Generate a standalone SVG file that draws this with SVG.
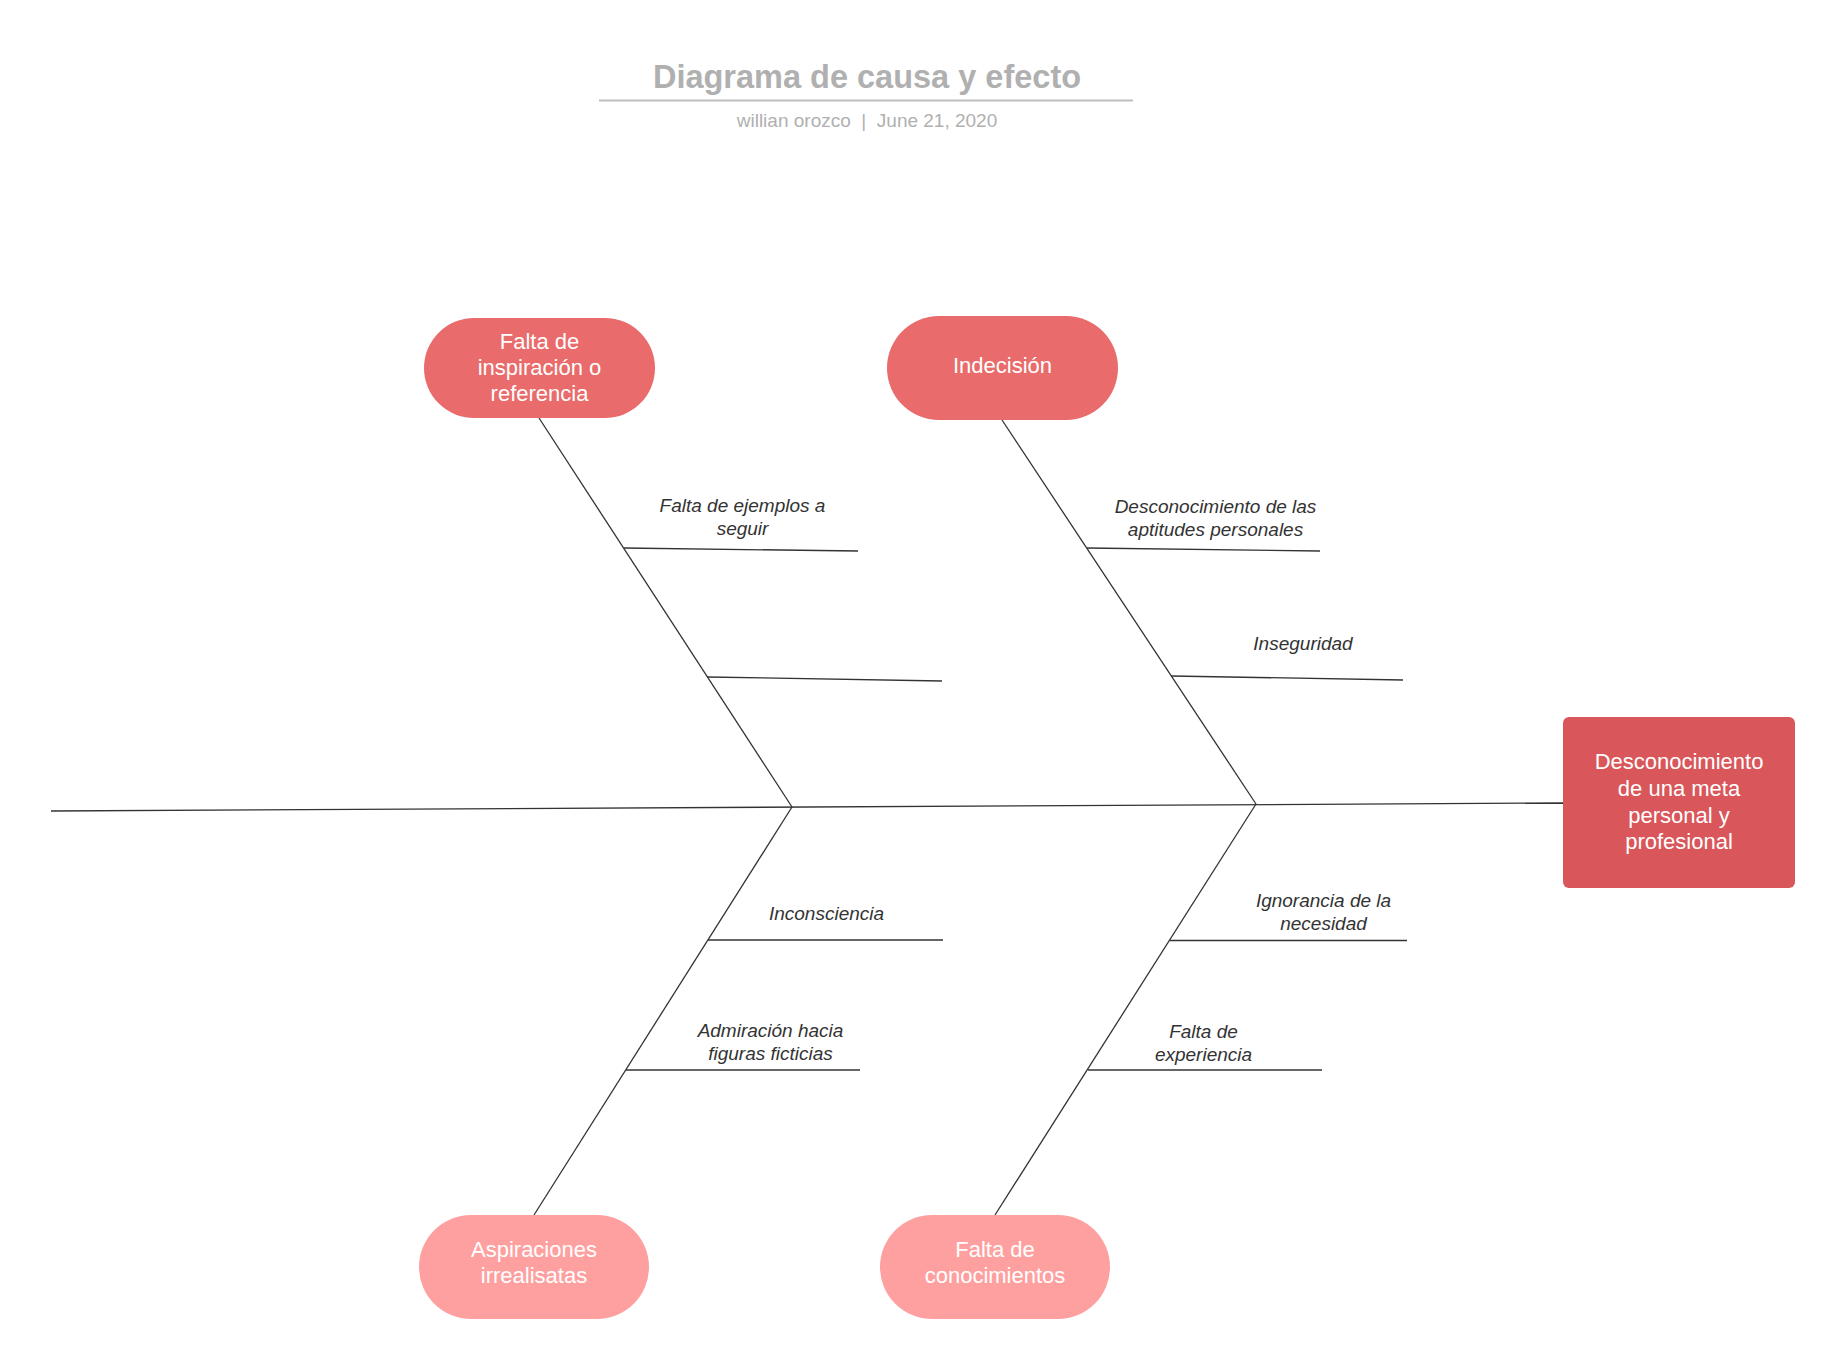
<svg xmlns="http://www.w3.org/2000/svg" width="1845" height="1367" viewBox="0 0 1845 1367">
  <style>
    text { font-family: "Liberation Sans", Arial, sans-serif; }
    .title { font-size: 32.5px; font-weight: bold; fill: #b0b0b0; text-anchor: middle; }
    .sub { font-size: 19px; fill: #b0b0b0; text-anchor: middle; white-space: pre; }
    .node-text { font-size: 22px; fill: #ffffff; text-anchor: middle; }
    .label { font-size: 19px; font-style: italic; fill: #333333; text-anchor: middle; }
    .top { fill: #e96b6b; }
    .bottom { fill: #ffa0a0; }
    .effect { fill: #d9565a; }
    .bone { stroke: #333333; stroke-width: 1.3; fill: none; }
  </style>

  <!-- heading -->
  <g id="heading">
    <text class="title" x="867" y="88">Diagrama de causa y efecto</text>
    <line x1="599" y1="100.5" x2="1133" y2="100.5" stroke="#bdbdbd" stroke-width="2.2"/>
    <text class="sub" x="867" y="126.5" xml:space="preserve">willian orozco  |  June 21, 2020</text>
  </g>

  <!-- spine, main bones and sub-branches -->
  <g id="connectors">
    <line class="bone" x1="51" y1="811" x2="1563" y2="803"/>
    <line class="bone" x1="539" y1="418" x2="792" y2="807"/>
    <line class="bone" x1="1002" y1="420" x2="1256" y2="804"/>
    <line class="bone" x1="792" y1="807" x2="534" y2="1215"/>
    <line class="bone" x1="1256" y1="804" x2="995" y2="1215"/>

    <line class="bone" x1="624" y1="548" x2="858" y2="551"/>
    <line class="bone" x1="707" y1="677" x2="942" y2="681"/>
    <line class="bone" x1="1087" y1="548" x2="1320" y2="551"/>
    <line class="bone" x1="1171" y1="676" x2="1403" y2="680"/>
    <line class="bone" x1="708" y1="940" x2="943" y2="940"/>
    <line class="bone" x1="626" y1="1070" x2="860" y2="1070"/>
    <line class="bone" x1="1170" y1="940.5" x2="1407" y2="940.5"/>
    <line class="bone" x1="1088" y1="1070" x2="1322" y2="1070"/>
  </g>

  <!-- sub-cause labels -->
  <g id="labels">
    <text class="label" x="742.5" y="512">Falta de ejemplos a</text>
    <text class="label" x="742.5" y="535">seguir</text>
    <text class="label" x="1215.5" y="513">Desconocimiento de las</text>
    <text class="label" x="1215.5" y="535.5">aptitudes personales</text>
    <text class="label" x="1303" y="650">Inseguridad</text>
    <text class="label" x="826.5" y="920">Inconsciencia</text>
    <text class="label" x="770.5" y="1037">Admiración hacia</text>
    <text class="label" x="770.5" y="1060">figuras ficticias</text>
    <text class="label" x="1323.5" y="907">Ignorancia de la</text>
    <text class="label" x="1323.5" y="930">necesidad</text>
    <text class="label" x="1203.5" y="1038">Falta de</text>
    <text class="label" x="1203.5" y="1061">experiencia</text>
  </g>

  <g id="cause-inspiracion">
    <rect class="top" x="424" y="318" width="231" height="100" rx="50" ry="50"/>
    <text class="node-text" x="539.5" y="349">Falta de</text>
    <text class="node-text" x="539.5" y="375">inspiración o</text>
    <text class="node-text" x="539.5" y="401">referencia</text>
  </g>

  <g id="cause-indecision">
    <rect class="top" x="887" y="316" width="231" height="104" rx="52" ry="52"/>
    <text class="node-text" x="1002.5" y="373">Indecisión</text>
  </g>

  <g id="cause-aspiraciones">
    <rect class="bottom" x="419" y="1215" width="230" height="104" rx="52" ry="52"/>
    <text class="node-text" x="534" y="1257">Aspiraciones</text>
    <text class="node-text" x="534" y="1283">irrealisatas</text>
  </g>

  <g id="cause-conocimientos">
    <rect class="bottom" x="880" y="1215" width="230" height="104" rx="52" ry="52"/>
    <text class="node-text" x="995" y="1257">Falta de</text>
    <text class="node-text" x="995" y="1283">conocimientos</text>
  </g>

  <g id="effect">
    <rect class="effect" x="1563" y="717" width="232" height="171" rx="6" ry="6"/>
    <text class="node-text" x="1679" y="769">Desconocimiento</text>
    <text class="node-text" x="1679" y="796">de una meta</text>
    <text class="node-text" x="1679" y="823">personal y</text>
    <text class="node-text" x="1679" y="849">profesional</text>
  </g>
</svg>
